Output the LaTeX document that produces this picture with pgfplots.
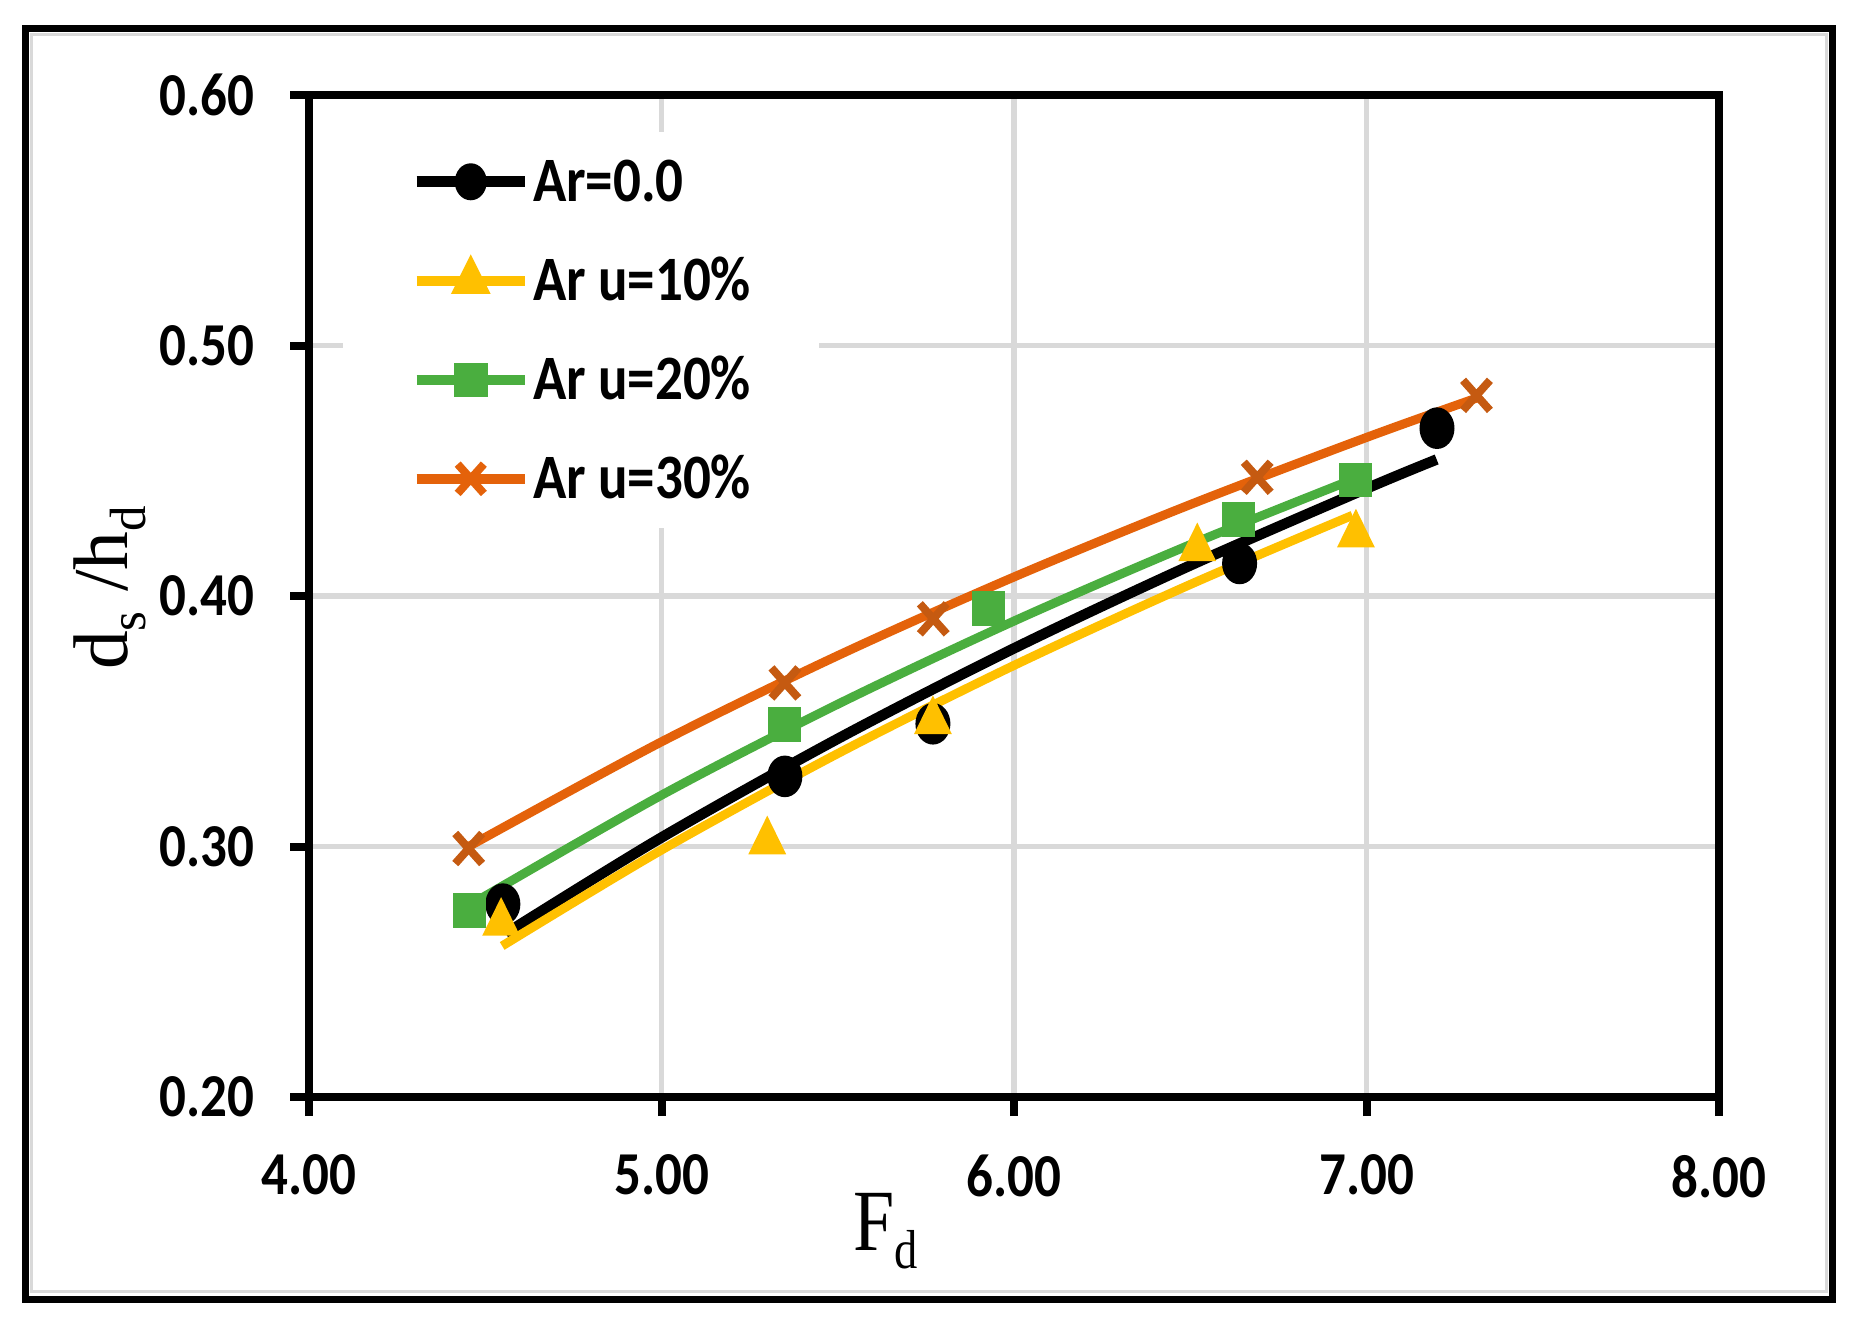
\documentclass[border=0pt]{standalone}
\usepackage{fontspec}
\setmainfont{Carlito}
\newfontfamily\tnr{Liberation Serif}
\usepackage{graphicx}
\usepackage{pgfplots}
\pgfplotsset{compat=1.18}
\definecolor{cyel}{RGB}{255,192,0}
\definecolor{cgrn}{RGB}{74,174,63}
\definecolor{corl}{RGB}{228,98,10}
\definecolor{corm}{RGB}{197,90,17}
\definecolor{cgrid}{RGB}{217,217,217}
\newcommand{\sy}[1]{\scalebox{1}[1.15]{#1}}
\begin{document}
\begin{tikzpicture}[x=1pt,y=1pt]
\useasboundingbox (0,0) rectangle (371.8,265.6);
\draw[line width=1.4pt] (5.1,5.8) rectangle (366.4,259.9);
\draw[cgrid, line width=0.6pt] (6.3,7.4) rectangle (365.2,258.6);
\begin{axis}[
  at={(61.8pt,46.2pt)}, anchor=south west,
  scale only axis, width=282pt, height=200.4pt,
  xmin=4, xmax=8, ymin=0.2, ymax=0.6,
  xtick={4,5,6,7,8},
  xticklabels={\sy{4.00},\sy{5.00},\sy{6.00},\sy{7.00},\sy{8.00}},
  ytick={0.2,0.3,0.4,0.5,0.6},
  yticklabels={\sy{0.20},\sy{0.30},\sy{0.40},\sy{0.50},\sy{0.60}},
  axis line style={line width=1.6pt, black},
  tick align=outside, xtick pos=bottom, ytick pos=left,
  major tick length=3.8pt,
  major tick style={line width=1.6pt, black},
  grid=major, major grid style={cgrid, line width=1.05pt},
  ticklabel style={font=\fontsize{10.6}{12}\selectfont\bfseries, inner sep=0pt},
  yticklabel style={anchor=east},
  xticklabel style={anchor=north},
  yticklabel shift=7pt,
  xticklabel shift=7.6pt,
  legend cell align=left,
  legend style={at={(0.0234,0.9638)}, anchor=north west, draw=none, fill=white,
    inner xsep=13.6pt, inner ysep=0pt, row sep=0pt, column sep=0.5pt,
    font=\fontsize{11}{12}\selectfont\bfseries,
    nodes={inner sep=0pt, text height=13.9pt, text depth=5.9pt}},
]
% markers
\addplot[only marks, mark=*, mark size=3.3pt, mark options={draw=black, fill=black, yscale=1.2},
  legend image code/.code={\draw[black, line width=2.2pt] (0pt,0pt) -- (21.7pt,0pt);
    \fill[black] (10.85pt,0pt) ellipse [x radius=3.0pt, y radius=3.5pt];}]
  coordinates {(4.55,0.277) (5.35,0.328) (5.77,0.349) (6.64,0.413) (7.20,0.467)};
\addlegendentry{\sy{Ar=0.0}}
\addplot[only marks, mark=triangle*, mark size=4.0pt, mark options={draw=cyel, fill=cyel, yscale=1.18},
  legend image code/.code={\draw[cyel, line width=1.9pt] (0pt,0pt) -- (21.7pt,0pt);
    \draw[cyel, mark=triangle*, mark size=4.2pt, mark options={fill=cyel, yscale=1.15}] plot coordinates {(10.85pt,0pt)};}]
  coordinates {(4.545,0.2695) (5.30,0.302) (5.77,0.350) (6.52,0.419) (6.97,0.4245)};
\addlegendentry{\sy{Ar u=10\%}}
\addplot[only marks, mark=square*, mark size=3.1pt, mark options={draw=cgrn, fill=cgrn, yscale=1.06},
  legend image code/.code={\draw[cgrn, line width=1.9pt] (0pt,0pt) -- (21.7pt,0pt);
    \draw[cgrn, mark=square*, mark size=3.2pt, mark options={fill=cgrn}] plot coordinates {(10.85pt,0pt)};}]
  coordinates {(4.455,0.2744) (5.35,0.3488) (5.927,0.395) (6.636,0.4306) (6.97,0.4463)};
\addlegendentry{\sy{Ar u=20\%}}
\addplot[only marks, mark=x, mark size=3.8pt, mark options={draw=corm, line width=1.6pt, yscale=1.12},
  legend image code/.code={\draw[corl, line width=1.9pt] (0pt,0pt) -- (21.7pt,0pt);
    \draw[corl, mark=x, mark size=3.7pt, mark options={line width=1.6pt, yscale=1.12}] plot coordinates {(10.85pt,0pt)};}]
  coordinates {(4.453,0.2992) (5.35,0.3653) (5.771,0.3909) (6.69,0.4474) (7.312,0.4801)};
\addlegendentry{\sy{Ar u=30\%}}
% trend lines
\addplot[black, line width=2.1pt, smooth, forget plot] coordinates
  {(4.558,0.2653) (5.0,0.3036) (5.5,0.3430) (6.0,0.3791) (6.5,0.4122) (7.0,0.4429) (7.199,0.4545)};
\addplot[cyel, line width=1.8pt, smooth, forget plot] coordinates
  {(4.548,0.2603) (5.0,0.2986) (5.5,0.3371) (6.0,0.3723) (6.5,0.4046) (6.96,0.4322)};
\addplot[cgrn, line width=1.8pt, smooth, forget plot] coordinates
  {(4.459,0.2769) (5.0,0.3205) (5.5,0.3568) (6.0,0.3900) (6.5,0.4205) (7.0,0.4487)};
\addplot[corl, line width=1.8pt, smooth, forget plot] coordinates
  {(4.453,0.3000) (5.0,0.3418) (5.5,0.3762) (6.0,0.4076) (6.5,0.4365) (7.0,0.4633) (7.312,0.4790)};
\end{axis}
\node[rotate=90, anchor=base, inner sep=0pt, font=\tnr\fontsize{15.5}{17}\selectfont] at (25.4,148)
  {d\raisebox{-3.6pt}{\fontsize{10.2}{11}\selectfont s} /h\raisebox{-3.6pt}{\fontsize{10.2}{11}\selectfont d}};
\node[anchor=base west, inner sep=0pt, font=\tnr] at (170.4,15.6)
  {\scalebox{1}[1.18]{\fontsize{14.8}{16}\selectfont F\raisebox{-3.1pt}{\fontsize{9.3}{10}\selectfont d}}};
\end{tikzpicture}
\end{document}
